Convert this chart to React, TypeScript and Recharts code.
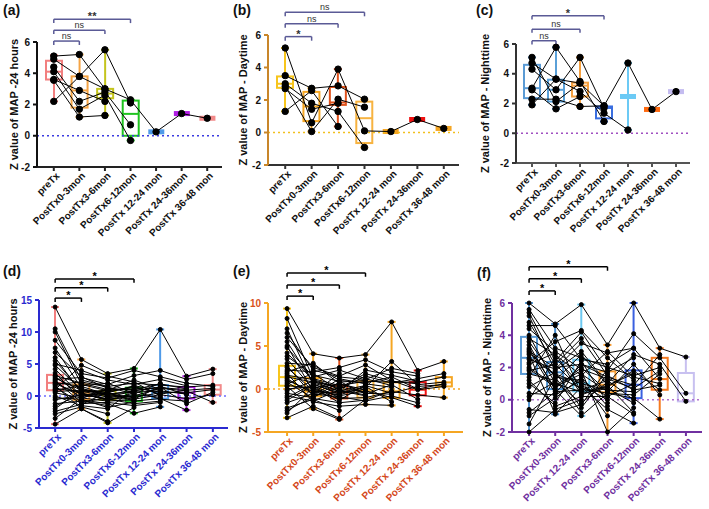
import React from 'react';
import { ComposedChart, Bar, Line, XAxis, YAxis, ReferenceLine } from 'recharts';

// categories
const cats = ['preTx', 'PostTx0-3mon', 'PostTx3-6mon', 'PostTx6-12mon', 'PostTx 12-24 mon', 'PostTx 24-36mon', 'PostTx 36-48 mon'];
const catsF = ['preTx', 'PostTx0-3mon', 'PostTx 12-24 mon', 'PostTx3-6mon', 'PostTx6-12mon', 'PostTx 24-36mon', 'PostTx 36-48 mon'];

// (a) 24 hours, small cohort
const aLo = [2.2, 1.2, 1.3, -0.3, 0.25, 1.42, 1.12];
const aQ1 = [3.6, 1.8, 2.4, 0.0, 0.25, 1.42, 1.12];
const aMed = [4.1, 2.9, 2.7, 1.4, 0.25, 1.42, 1.12];
const aQ3 = [4.8, 3.8, 3.0, 2.25, 0.25, 1.42, 1.12];
const aHi = [5.15, 5.2, 5.5, 2.3, 0.25, 1.42, 1.12];
const aPts = [
  [5.1, 5.2, 3.0, 2.3, 0.25, 1.42, 1.12],
  [4.9, 3.8, 5.5, 2.1],
  [4.4, 2.2, 2.8, 0.7],
  [4.1, 1.7, 2.6, -0.3],
  [3.6, 2.9, 2.2],
  [3.55, 1.2, 1.3],
  [2.2, 3.8, 3.0],
];

// (b) daytime, small cohort
const bLo = [1.3, 0.06, 0.37, -0.92, 0.06, 0.8, 0.25];
const bQ1 = [2.75, 0.7, 1.7, -0.65, 0.06, 0.8, 0.25];
const bMed = [3.0, 1.6, 1.85, 0.88, 0.06, 0.8, 0.25];
const bQ3 = [3.45, 2.5, 2.8, 1.9, 0.06, 0.8, 0.25];
const bHi = [5.2, 2.72, 3.9, 2.05, 0.06, 0.8, 0.25];
const bPts = [
  [5.2, 0.6, 3.9, 0.1, 0.06, 0.8, 0.25],
  [3.5, 2.72, 2.87, 2.05],
  [3.0, 1.8, 1.3, -0.92],
  [2.85, 0.06, 2.05, 1.56],
  [2.7, 1.43, 1.8],
  [1.3, 2.58, 0.37],
];

// (c) nighttime, small cohort
const cLo = [1.91, 1.64, 1.8, 0.79, 0.22, 1.6, 2.8];
const cQ1 = [2.36, 2.13, 2.47, 1.0, 2.47, 1.6, 2.8];
const cMed = [3.03, 2.92, 3.2, 1.7, 2.47, 1.6, 2.8];
const cQ3 = [4.6, 3.6, 3.4, 1.8, 2.47, 1.6, 2.8];
const cHi = [5.1, 5.78, 5.1, 1.84, 4.72, 1.6, 2.8];
const cPts = [
  [5.1, 2.13, 3.37, 1.84, 4.72, 1.6, 2.8],
  [4.72, 3.64, 2.81, 1.35, 0.22],
  [4.31, 2.92, 5.1, 1.69],
  [3.03, 5.78, 3.48, 0.79],
  [2.92, 1.64, 2.47],
  [2.29, 2.29, 1.8, 1.84],
  [1.91, 3.64, 3.37],
];

// (d) 24 hours, full cohort
const dLo = [-4.4, -2.0, -4.2, -2.7, -1.7, -2.2, -1.0];
const dQ1 = [0.9, -0.6, -0.6, -0.8, -0.4, -0.4, 0.2];
const dMed = [2.05, 0.5, 0.1, 0.0, 0.6, 0.5, 1.0];
const dQ3 = [3.3, 1.8, 0.8, 1.3, 1.7, 1.4, 1.7];
const dHi = [13.9, 5.7, 3.5, 4.3, 10.4, 3.1, 4.2];
const dPts = [
  [13.9, 5.7, 3.5, 4.3, 10.4, 3.1, 4.2],
  [10.5, 2.5, 1.5, 2.0, 1.7, 1.4, 1.7],
  [10.0, 1.8, 0.8, 1.3, 0.6, 0.5, 1.0],
  [8.7, 3.5, 2.8, 4.0, 3.0, 2.0, 1.5],
  [7.5, 1.2, 0.1, -0.5, 0.2, -0.4, 0.2],
  [6.0, 0.5, -0.6, 0.0, 1.2, 0.8, -1.0],
  [5.0, 4.0, 2.5, 1.8, 2.6, 1.6],
  [4.2, 0.0, 0.5, -0.8, -0.4, -2.2],
  [3.6, -0.6, -1.2, -2.7, -1.7],
  [3.2, 2.0, 1.0, 1.0, 1.9, 1.1],
  [2.8, 0.9, 0.3, 0.6, 0.8, 0.3],
  [2.4, -1.0, -0.3, 0.2, -0.2],
  [2.1, 1.5, 0.2, -0.2, 0.5],
  [1.9, 0.3, -0.5, -1.2, -0.8],
  [1.6, -2.0, -4.2, -1.8],
  [1.2, 0.6, 0.9, 2.5, 1.0],
  [0.9, 1.6, 2.0, 0.4],
  [0.5, -0.3, -0.8, -0.6],
  [0.0, -1.5, -2.0, 1.1],
  [-0.6, 0.2, 0.4, -0.3],
  [-1.2, -0.8, -1.5],
  [-2.0, 1.0, 0.0],
  [-2.8, -1.7, -2.8],
  [-3.5, -0.4, 1.2],
  [-4.4, -2.0, -4.0],
  [2.6, 2.9, 1.8, 3.2, 4.0, 2.6, 3.5],
  [5.5, 0.8, -0.2, 0.8, 1.4, -1.2, 0.6],
  [1.0, 4.8, 3.1, 2.2, 0.0],
  [4.8, 1.0, 0.6, 1.5, 0.3, 0.9, 1.2],
  [3.0, 0.2, -0.4, -0.5, 1.5, 0.2],
  [2.2, -0.2, 0.3, 0.8, -0.5, -0.8],
  [1.8, 2.2, 1.4, 0.3, 2.0],
  [1.4, -1.2, -1.0, -1.5, -1.0],
  [0.7, 0.9, 0.5, 1.6, 0.9],
  [-0.3, -0.5, -1.8, -0.9],
  [-1.6, 0.4, -0.7, 0.5],
  [-2.4, -1.3, 0.6],
  [6.8, 3.0, 1.2, 0.9, 1.3, 1.0],
];

// (e) daytime, full cohort
const eLo = [-3.35, -2.3, -3.54, -1.8, -1.9, -2.0, -1.0];
const eQ1 = [0.38, -0.85, -1.1, -1.0, -1.04, -0.73, 0.3];
const eMed = [1.38, -0.27, -0.38, -0.2, -0.27, -0.08, 0.77];
const eQ3 = [2.7, 1.27, 0.38, 0.9, 0.77, 0.8, 1.38];
const eHi = [9.35, 4.1, 3.6, 4.0, 7.8, 2.15, 3.2];
const ePts = [
  [9.35, 4.1, 3.6, 4.0, 7.8, 2.15, 3.2],
  [8.2, 1.2, 0.4, 0.9, 0.8, 0.8, 1.4],
  [7.0, 0.5, -0.4, 0.2, 3.2, 0.5, 0.8],
  [6.0, 2.5, 1.5, 2.8, 1.0, -0.1, 0.3],
  [5.0, -0.3, -1.1, -1.0, -0.3, -0.7, -1.0],
  [4.2, 1.0, 0.0, 1.5, 0.7, 1.2, 1.8],
  [3.5, 0.0, -0.8, -0.2, -1.0, -2.0],
  [2.7, -0.8, 1.2, 0.6, 0.2],
  [2.2, 2.0, 2.5, 3.4, 2.0, 1.5],
  [1.8, -1.5, -2.0, -1.8, -1.9],
  [1.4, 0.8, 0.3, -0.5, -0.6],
  [1.0, -0.3, -0.5, 0.0],
  [0.6, 1.8, -0.2, -0.8],
  [0.3, -2.3, -3.54, -1.2],
  [0.0, 0.3, -1.3, 0.5],
  [-0.5, -1.0, 0.8, 1.0],
  [-1.0, 0.6, -0.6],
  [-1.6, -0.5, 1.8],
  [-2.2, -1.2, -2.5],
  [-2.8, 0.2, -1.6],
  [-3.35, -2.0, -3.4],
  [3.0, 2.8, 1.0, 0.7, 1.4, 0.0, 0.6],
  [1.2, -0.6, -0.9, -1.4, -0.8, -1.6],
  [4.8, 1.4, 2.2, 1.2, 0.4],
  [2.0, 3.0, 0.6, -0.4],
  [-0.2, 0.9, -0.3, 2.2, 1.6, 0.9],
  [5.5, 0.7, -0.2, 0.4, -0.5, 0.3, 0.5],
  [3.8, 1.6, 0.9, -0.6, 0.5, -1.2],
  [2.5, -0.2, -0.7, 0.3, -1.5],
  [1.6, 1.1, 0.1, 1.8, 0.9, 0.6],
  [0.8, -1.1, -1.6, -1.3, -0.2],
  [0.4, 0.1, 0.6, -0.1],
  [-0.8, -1.4, -0.1, -0.7],
  [-1.3, 0.4, -1.0],
  [-2.5, -0.9, 0.2],
  [6.5, 2.2, 1.4, 1.1, 2.4, 1.8],
];

// (f) nighttime, full cohort
const fLo = [-2.0, -0.9, -1.0, -2.0, -1.45, -1.2, -0.1];
const fQ1 = [1.6, 0.66, 0.52, 0.46, 0.1, 0.62, -0.1];
const fMed = [2.6, 1.7, 1.0, 0.93, 0.93, 1.28, 0.4];
const fQ3 = [3.9, 2.34, 2.48, 1.76, 1.82, 2.6, 1.66];
const fHi = [6.0, 4.7, 5.9, 3.4, 6.0, 3.2, 2.65];
const fPts = [
  [6.0, 4.7, 5.9, 3.4, 6.0, 3.2, 2.65],
  [5.4, 2.4, 4.2, 1.8, 4.1, 2.6, 0.4],
  [5.2, 1.8, 3.0, 1.0, 2.8, 2.2, -0.1],
  [4.6, 4.6, 2.5, 2.2, 3.2, 1.3],
  [4.0, 1.0, 0.5, 0.8, 1.8, 0.6],
  [3.8, 2.8, 1.5, 3.0, 1.4, 1.0],
  [3.4, 0.6, -1.0, 0.4, 0.1, -1.2],
  [3.0, 2.0, 2.2, 1.4, 0.9, 2.8],
  [2.8, -0.9, 0.8, -0.6, -1.45],
  [2.6, 1.6, 1.0, 0.6, 0.5],
  [2.3, 3.6, 4.3, 2.6, 1.2],
  [2.0, 0.9, 1.8, -2.0, -0.5],
  [1.8, 2.2, 0.6, 1.2, 0.0],
  [1.6, 1.2, 2.8, 0.9, 1.6],
  [1.2, -0.4, 0.2, 0.2, -0.9],
  [0.8, 1.7, -0.5, 1.6],
  [0.4, 0.3, 1.2, -1.0],
  [0.0, 2.6, 0.9, 0.0],
  [-0.6, -0.8, -0.3, 1.9],
  [-1.0, 0.1, 1.4, -0.4],
  [-1.5, 1.4, -0.8],
  [-2.0, -0.6, 0.0],
  [4.4, 3.0, 1.9, 1.3, 0.7, 1.8],
  [3.2, 0.7, 2.0, 0.5, 2.2, 0.3],
  [2.5, 1.9, 3.5, 2.9, 3.2],
  [1.4, 4.0, 0.4, 0.7, -0.2],
  [5.6, 3.2, 2.6, 2.0, 1.5, 2.0],
  [4.8, 2.2, 3.8, 1.5, 0.6, 0.9],
  [3.6, 1.4, 1.2, 0.2, 1.0],
  [3.1, 0.4, 2.2, 1.7, 2.6],
  [2.2, 2.9, 0.3, 0.9, -0.8],
  [1.9, 0.8, 1.6, 0.5],
  [1.0, -0.2, 2.4, -0.2],
  [0.2, 1.1, -0.2, 1.1],
  [-0.8, 0.5, 0.6],
  [2.9, 1.5, 0.7, 0.4, 0.3, 1.6],
];

const colA = ['#f27f7f', '#f5a445', '#c4c41c', '#1fc41f', '#4f9ae8', '#b01ee3', '#f28a8a'];
const colB = ['#f7c51c', '#f5a623', '#e0521c', '#f7b340', '#f5a623', '#ef1111', '#f5a623'];
const colC = ['#5b9bd5', '#5aa0d8', '#f5a040', '#3a6ee0', '#6ccaf5', '#ff6a10', '#c4bcf0'];
const colF = ['#5b9bd5', '#4a8fd0', '#6cc8f0', '#f59a30', '#3a60e0', '#f57a20', '#c8c0f0'];

type Bracket = { to: number; y: number; text: string };

function makeRows(names: string[], lo: number[], q1: number[], med: number[], q3: number[], hi: number[], colors: string[], pts: number[][]) {
  return names.map((name, i) => {
    const row: any = { name, lo: lo[i], q1: q1[i], med: med[i], q3: q3[i], hi: hi[i], color: colors[i] };
    pts.forEach((p, j) => {
      row['p' + j] = p[i] ?? null;
    });
    return row;
  });
}

function BoxShape(props: any) {
  const { x, y, width, height, payload, sw } = props;
  const { lo, hi, q1, med, q3, color } = payload;
  const span = hi - lo;
  const py = (v: number) => (span > 0 ? y + ((hi - v) / span) * height : y);
  const cx = x + width / 2;
  let top = py(q3);
  let bot = py(q1);
  const flat = bot - top < 3;
  if (flat) {
    const m = (top + bot) / 2;
    top = m - 2.5;
    bot = m + 2.5;
  }
  const cap = 4;
  return (
    <g>
      {span > 0 && (
        <g stroke={color} strokeWidth={sw}>
          <line x1={cx} x2={cx} y1={py(hi)} y2={top} />
          <line x1={cx} x2={cx} y1={bot} y2={py(lo)} />
          <line x1={cx - cap} x2={cx + cap} y1={py(hi)} y2={py(hi)} />
          <line x1={cx - cap} x2={cx + cap} y1={py(lo)} y2={py(lo)} />
        </g>
      )}
      {flat ? (
        <rect x={x} y={top} width={width} height={bot - top} fill={color} />
      ) : (
        <g>
          <rect x={x} y={top} width={width} height={bot - top} fill="none" stroke={color} strokeWidth={sw} />
          <line x1={x} x2={x + width} y1={py(med)} y2={py(med)} stroke={color} strokeWidth={sw} />
        </g>
      )}
    </g>
  );
}

function CatTick(props: any) {
  const { x, y, payload, fill } = props;
  return (
    <g transform={`translate(${x + 4},${y + 1})`}>
      <text textAnchor="end" transform="rotate(-45)" dy="0.35em" fontSize={10} fontWeight="bold" fill={fill}>
        {payload.value}
      </text>
    </g>
  );
}

type PanelProps = {
  left: number; top: number; width: number; height: number;
  mTop: number; mRight: number; yWidth: number; xHeight: number; padL: number; padR: number;
  names: string[]; rows: any[]; nPts: number;
  domain: [number, number]; ticks: number[];
  yLabel: string; labelDx: number;
  yAxisColor: string; xAxisColor: string; yTickColor: string; catColor: string; zeroColor: string;
  brackets: Bracket[]; bracketColor: string; drop: number;
  boxOnTop: boolean; dotR: number; sw: number;
};

function Panel(p: PanelProps) {
  const font = 'Liberation Sans, Arial, sans-serif';
  const boxes = (
    <Bar
      key="box"
      dataKey={(d: any) => [d.lo, d.hi]}
      barSize={16}
      shape={(sp: any) => <BoxShape {...sp} sw={p.sw} />}
      isAnimationActive={false}
    />
  );
  const lines = Array.from({ length: p.nPts }, (_, j) => (
    <Line
      key={'l' + j}
      dataKey={'p' + j}
      connectNulls
      stroke="#000"
      strokeWidth={1}
      dot={{ r: p.dotR, fill: '#000', stroke: '#000', strokeWidth: 1 }}
      activeDot={false}
      isAnimationActive={false}
    />
  ));
  const refs: React.ReactNode[] = [];
  p.brackets.forEach((b, i) => {
    const big = b.text !== 'ns';
    refs.push(
      <ReferenceLine
        key={'bh' + i}
        segment={[{ x: p.names[0], y: b.y }, { x: p.names[b.to], y: b.y }]}
        stroke={p.bracketColor}
        strokeWidth={1.5}
        ifOverflow="visible"
        label={{ value: b.text, position: 'top', offset: big ? -1 : 2, fill: p.bracketColor === '#000' ? '#000' : '#333', fontSize: big ? 11 : 9, fontWeight: big ? 'bold' : 'normal', fontFamily: font }}
      />,
      <ReferenceLine key={'bl' + i} segment={[{ x: p.names[0], y: b.y }, { x: p.names[0], y: b.y - p.drop }]} stroke={p.bracketColor} strokeWidth={1.5} ifOverflow="visible" />,
      <ReferenceLine key={'br' + i} segment={[{ x: p.names[b.to], y: b.y }, { x: p.names[b.to], y: b.y - p.drop }]} stroke={p.bracketColor} strokeWidth={1.5} ifOverflow="visible" />
    );
  });
  return (
    <div style={{ position: 'absolute', left: p.left, top: p.top }}>
      <ComposedChart width={p.width} height={p.height} data={p.rows} margin={{ top: p.mTop, right: p.mRight, bottom: 0, left: 0 }}>
        <XAxis
          dataKey="name"
          interval={0}
          height={p.xHeight}
          padding={{ left: p.padL, right: p.padR }}
          tickSize={4}
          tickMargin={2}
          axisLine={{ stroke: p.xAxisColor, strokeWidth: 2 }}
          tickLine={{ stroke: p.xAxisColor, strokeWidth: 2 }}
          tick={<CatTick fill={p.catColor} />}
        />
        <YAxis
          type="number"
          domain={p.domain}
          ticks={p.ticks}
          interval={0}
          width={p.yWidth}
          tickSize={4}
          tickMargin={3}
          axisLine={{ stroke: p.yAxisColor, strokeWidth: 2 }}
          tickLine={{ stroke: p.yAxisColor, strokeWidth: 2 }}
          tick={{ fill: p.yTickColor, fontSize: 10, fontWeight: 'bold', fontFamily: font }}
          label={{ value: p.yLabel, angle: -90, position: 'center', dx: p.labelDx, fill: '#111', fontSize: 11, fontWeight: 'bold', fontFamily: font }}
        />
        <ReferenceLine y={0} stroke={p.zeroColor} strokeWidth={1.5} strokeDasharray="2 3" />
        {p.boxOnTop ? lines : boxes}
        {p.boxOnTop ? boxes : lines}
        {refs}
      </ComposedChart>
    </div>
  );
}

const brA: Bracket[] = [{ to: 1, y: 6.06, text: 'ns' }, { to: 2, y: 6.76, text: 'ns' }, { to: 3, y: 7.46, text: '**' }];
const brB: Bracket[] = [{ to: 1, y: 5.9, text: '*' }, { to: 2, y: 6.7, text: 'ns' }, { to: 3, y: 7.4, text: 'ns' }];
const brC: Bracket[] = [{ to: 1, y: 6.22, text: 'ns' }, { to: 2, y: 7.0, text: 'ns' }, { to: 3, y: 7.9, text: '*' }];
const brD: Bracket[] = [{ to: 1, y: 15.3, text: '*' }, { to: 2, y: 16.9, text: '*' }, { to: 3, y: 18.3, text: '*' }];
const brE: Bracket[] = [{ to: 1, y: 10.8, text: '*' }, { to: 2, y: 12.1, text: '*' }, { to: 3, y: 13.5, text: '*' }];
const brF: Bracket[] = [{ to: 1, y: 6.75, text: '*' }, { to: 2, y: 7.5, text: '*' }, { to: 3, y: 8.25, text: '*' }];

const letterStyle: React.CSSProperties = { position: 'absolute', fontSize: 14, fontWeight: 'bold', lineHeight: '14px', color: '#111' };

export default function App() {
  const rowsA = makeRows(cats, aLo, aQ1, aMed, aQ3, aHi, colA, aPts);
  const rowsB = makeRows(cats, bLo, bQ1, bMed, bQ3, bHi, colB, bPts);
  const rowsC = makeRows(cats, cLo, cQ1, cMed, cQ3, cHi, colC, cPts);
  const rowsD = makeRows(cats, dLo, dQ1, dMed, dQ3, dHi, colA, dPts);
  const rowsE = makeRows(cats, eLo, eQ1, eMed, eQ3, eHi, colB, ePts);
  const rowsF = makeRows(catsF, fLo, fQ1, fMed, fQ3, fHi, colF, fPts);
  return (
    <div style={{ position: 'fixed', left: 0, top: 0, width: 709, height: 509, background: '#fff', overflow: 'hidden', fontFamily: 'Liberation Sans, Arial, sans-serif' }}>
      <Panel left={0} top={0} width={236} height={250} mTop={42} mRight={14} yWidth={37} xHeight={83} padL={4} padR={2}
        names={cats} rows={rowsA} nPts={aPts.length} domain={[-2, 6]} ticks={[-2, 0, 2, 4, 6]}
        yLabel="Z value of MAP -24 hours" labelDx={-4} yAxisColor="#111" xAxisColor="#222" yTickColor="#111" catColor="#111"
        zeroColor="#3b3be0" brackets={brA} bracketColor="#5a5a96" drop={0.25} boxOnTop={false} dotR={3.2} sw={2} />
      <Panel left={236} top={0} width={236} height={250} mTop={35} mRight={13} yWidth={32} xHeight={85} padL={4} padR={2}
        names={cats} rows={rowsB} nPts={bPts.length} domain={[-2, 6]} ticks={[-2, 0, 2, 4, 6]}
        yLabel="Z value of MAP - Daytime" labelDx={-9} yAxisColor="#c8862a" xAxisColor="#333" yTickColor="#111" catColor="#111"
        zeroColor="#f2c01e" brackets={brB} bracketColor="#5a5a96" drop={0.25} boxOnTop={false} dotR={3.2} sw={2} />
      <Panel left={472} top={0} width={237} height={250} mTop={44} mRight={19} yWidth={44} xHeight={87} padL={4} padR={2}
        names={cats} rows={rowsC} nPts={cPts.length} domain={[-2, 6]} ticks={[-2, 0, 2, 4, 6]}
        yLabel="Z value of MAP - Nighttime" labelDx={-9} yAxisColor="#333" xAxisColor="#555" yTickColor="#111" catColor="#111"
        zeroColor="#a050c0" brackets={brC} bracketColor="#5a5a96" drop={0.25} boxOnTop={false} dotR={3.2} sw={2} />
      <Panel left={0} top={250} width={236} height={259} mTop={50} mRight={8} yWidth={39} xHeight={81} padL={3} padR={2}
        names={cats} rows={rowsD} nPts={dPts.length} domain={[-5, 15]} ticks={[-5, 0, 5, 10, 15]}
        yLabel="Z value of MAP -24 hours" labelDx={-6} yAxisColor="#2a2ad0" xAxisColor="#2a2ad0" yTickColor="#2a2ad0" catColor="#2a2ad0"
        zeroColor="#6b6bff" brackets={brD} bracketColor="#000" drop={0.6} boxOnTop={true} dotR={2} sw={2} />
      <Panel left={236} top={250} width={236} height={259} mTop={53} mRight={9} yWidth={32} xHeight={77} padL={6} padR={6}
        names={cats} rows={rowsE} nPts={ePts.length} domain={[-5, 10]} ticks={[-5, 0, 5, 10]}
        yLabel="Z value of MAP - Daytime" labelDx={-9} yAxisColor="#f5a623" xAxisColor="#f5a623" yTickColor="#d9521a" catColor="#d4481b"
        zeroColor="#f5a623" brackets={brE} bracketColor="#000" drop={0.45} boxOnTop={true} dotR={2} sw={2} />
      <Panel left={472} top={250} width={237} height={259} mTop={53} mRight={7} yWidth={40} xHeight={77} padL={4} padR={3}
        names={catsF} rows={rowsF} nPts={fPts.length} domain={[-2, 6]} ticks={[-2, 0, 2, 4, 6]}
        yLabel="Z value of MAP - Nighttime" labelDx={-5} yAxisColor="#7030a0" xAxisColor="#7030a0" yTickColor="#7030a0" catColor="#7030a0"
        zeroColor="#b070d0" brackets={brF} bracketColor="#000" drop={0.25} boxOnTop={true} dotR={2} sw={2} />
      <div style={{ ...letterStyle, left: 3, top: 3 }}>(a)</div>
      <div style={{ ...letterStyle, left: 233, top: 3 }}>(b)</div>
      <div style={{ ...letterStyle, left: 476, top: 3 }}>(c)</div>
      <div style={{ ...letterStyle, left: 3, top: 264 }}>(d)</div>
      <div style={{ ...letterStyle, left: 233, top: 264 }}>(e)</div>
      <div style={{ ...letterStyle, left: 477, top: 266 }}>(f)</div>
    </div>
  );
}
